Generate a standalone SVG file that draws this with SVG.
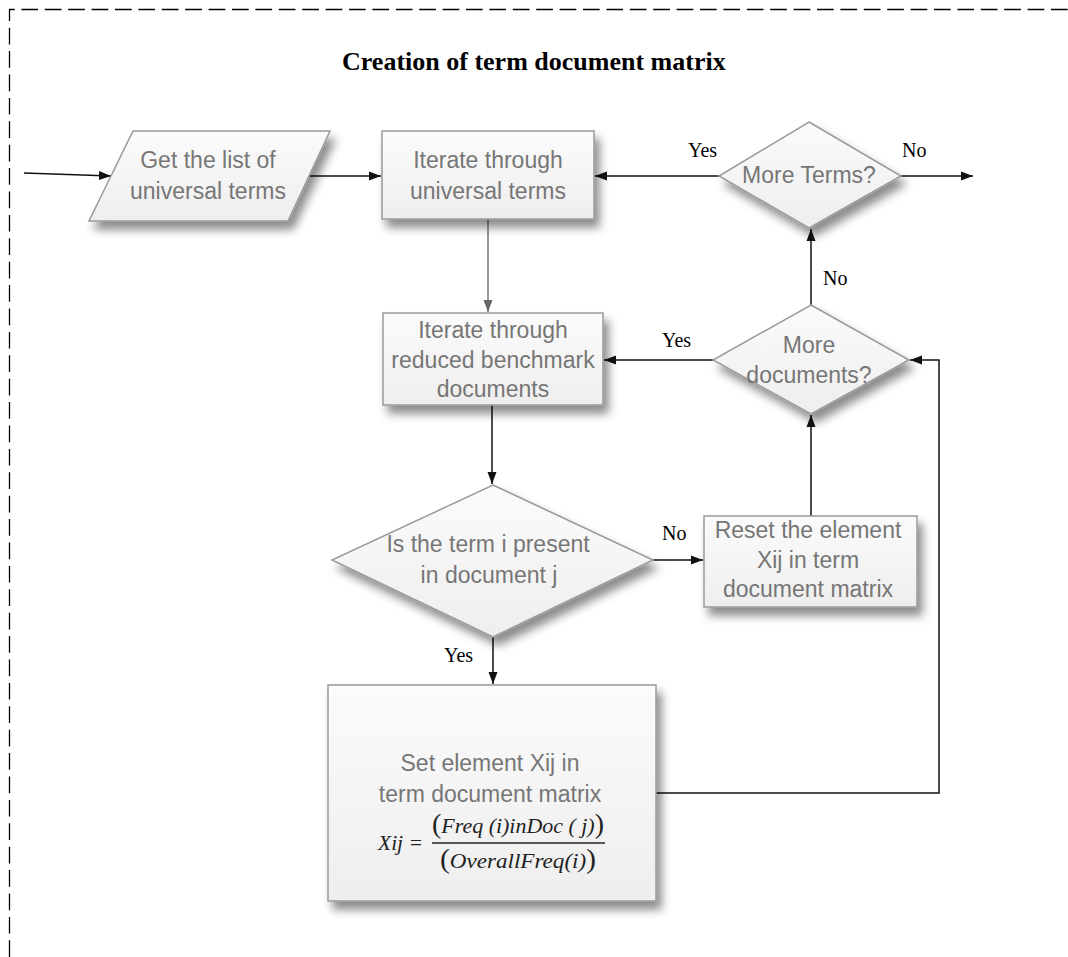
<svg xmlns="http://www.w3.org/2000/svg" width="1068" height="957" viewBox="0 0 1068 957">
<defs>
<style>
.node{fill:url(#g);stroke:#9a9a9a;stroke-width:1.5;filter:url(#sh)}
.t{font-family:"Liberation Sans",Arial,sans-serif;font-size:23px;fill:#767676;text-anchor:middle}
.lbl{font-family:"Liberation Serif","Times New Roman",serif;font-size:20px;fill:#000}
.c{fill:none;stroke:#111;stroke-width:1.5}
.cg{fill:none;stroke:#777;stroke-width:1.5}
.f{font-family:"Liberation Serif","Times New Roman",serif;font-style:italic;fill:#222}
</style>
<linearGradient id="g" x1="0" y1="0" x2="0" y2="1">
<stop offset="0" stop-color="#fbfbfb"/>
<stop offset="1" stop-color="#eeeeee"/>
</linearGradient>
<filter id="sh" x="-20%" y="-20%" width="150%" height="160%">
<feDropShadow dx="5" dy="8" stdDeviation="5" flood-color="#000" flood-opacity="0.45"/>
</filter>
<marker id="a" viewBox="0 0 12 10" refX="12" refY="5" markerWidth="12" markerHeight="10" markerUnits="userSpaceOnUse" orient="auto">
<path d="M0,0.5 L12,5 L0,9.5 Z" fill="#111"/>
</marker>
<marker id="ag" viewBox="0 0 12 10" refX="12" refY="5" markerWidth="12" markerHeight="10" markerUnits="userSpaceOnUse" orient="auto">
<path d="M0,0.5 L12,5 L0,9.5 Z" fill="#666"/>
</marker>
</defs>
<rect width="1068" height="957" fill="#fff"/>
<path d="M9.5,957 V9.5 H1068" fill="none" stroke="#000" stroke-width="1.3" stroke-dasharray="16.7 6.7"/>
<text x="342" y="70" font-family="'Liberation Serif','Times New Roman',serif" font-weight="bold" font-size="26" fill="#000">Creation of term document matrix</text>

<g id="connectors">
<path class="c" d="M24,173 L111,176" marker-end="url(#a)"/>
<path class="c" d="M309,176 H381" marker-end="url(#a)"/>
<path class="c" d="M719,176 H595" marker-end="url(#a)"/>
<path class="c" d="M901,176 H973" marker-end="url(#a)"/>
<path class="cg" d="M488,219 V312" marker-end="url(#ag)"/>
<path class="c" d="M811,305 V229" marker-end="url(#a)"/>
<path class="c" d="M713,360 H604" marker-end="url(#a)"/>
<path class="c" d="M492,405 V484" marker-end="url(#a)"/>
<path class="c" d="M653,560 H703" marker-end="url(#a)"/>
<path class="c" d="M811,516 V415" marker-end="url(#a)"/>
<path class="c" d="M493,637 V684" marker-end="url(#a)"/>
<path class="c" d="M656,793 H939 V360 H910" marker-end="url(#a)"/>
<text class="lbl" x="688" y="157">Yes</text>
<text class="lbl" x="902" y="157" font-size="21">No</text>
<text class="lbl" x="823" y="285" font-size="21">No</text>
<text class="lbl" x="662" y="347">Yes</text>
<text class="lbl" x="662" y="540" font-size="21">No</text>
<text class="lbl" x="444" y="662">Yes</text>
</g>

<g id="n-getlist">
<polygon class="node" points="133,131 330,131 288,221 89,221"/>
<text class="t" x="208" y="168">Get the list of</text>
<text class="t" x="208" y="199">universal terms</text>
</g>

<g id="n-iterterms">
<rect class="node" x="382" y="131" width="212" height="88"/>
<text class="t" x="488" y="168">Iterate through</text>
<text class="t" x="488" y="199">universal terms</text>
</g>

<g id="n-moreterms">
<polygon class="node" points="809,122 901,176 809,228 719,176"/>
<text class="t" x="809" y="183">More Terms?</text>
</g>

<g id="n-iterdocs">
<rect class="node" x="383" y="313" width="220" height="92"/>
<text class="t" x="493" y="338">Iterate through</text>
<text class="t" x="493" y="368">reduced benchmark</text>
<text class="t" x="493" y="397">documents</text>
</g>

<g id="n-moredocs">
<polygon class="node" points="811,305 909,360 811,414 713,360"/>
<text class="t" x="809" y="353">More</text>
<text class="t" x="809" y="383">documents?</text>
</g>

<g id="n-present">
<polygon class="node" points="493,485 653,560 493,637 332,560"/>
<text class="t" x="488" y="552">Is the term i present</text>
<text class="t" x="489" y="583">in document j</text>
</g>

<g id="n-reset">
<rect class="node" x="704" y="516" width="213" height="91"/>
<text class="t" x="808" y="538">Reset the element</text>
<text class="t" x="808" y="568">Xij in term</text>
<text class="t" x="808" y="597">document matrix</text>
</g>

<g id="n-set">
<rect class="node" x="328" y="685" width="328" height="216"/>
<text class="t" x="490" y="771">Set element Xij in</text>
<text class="t" x="490" y="802">term document matrix</text>
<text class="f" x="378" y="850" font-size="22" textLength="45" lengthAdjust="spacingAndGlyphs">Xij =</text>
<text class="f" x="432" y="833" font-size="22" textLength="172" lengthAdjust="spacingAndGlyphs"><tspan font-size="28" font-style="normal">(</tspan>Freq (i)inDoc ( j)<tspan font-size="28" font-style="normal">)</tspan></text>
<line x1="432" y1="843" x2="605" y2="843" stroke="#222" stroke-width="1.3"/>
<text class="f" x="440" y="868" font-size="22" textLength="156" lengthAdjust="spacingAndGlyphs"><tspan font-size="28" font-style="normal">(</tspan>OverallFreq(i)<tspan font-size="28" font-style="normal">)</tspan></text>
</g>
</svg>
